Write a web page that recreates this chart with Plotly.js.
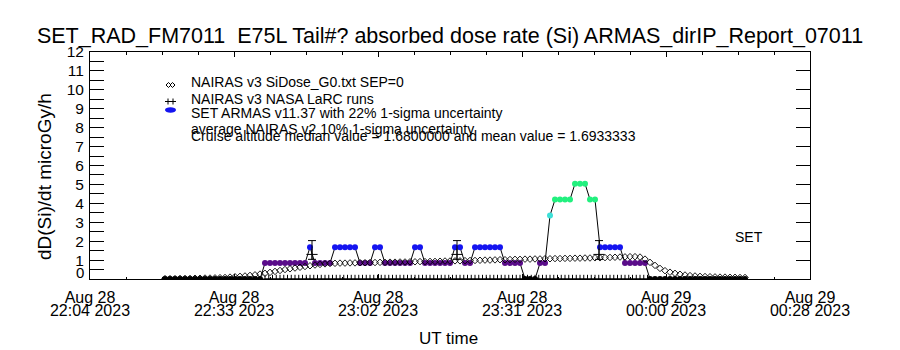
<!DOCTYPE html>
<html><head><meta charset="utf-8">
<script src="https://cdn.plot.ly/plotly-3.0.1.min.js"></script>
<style>html,body{margin:0;padding:0;background:#fff}#chart{width:900px;height:350px}</style>
</head><body><div id="chart"></div>
<script>
// ---------- axis ----------
const axisStart = "2023-08-28 22:04:50";
const axisEnd = "2023-08-29 00:28:50";
const xTickTimes = ["2023-08-28 22:04:50","2023-08-28 22:33:38","2023-08-28 23:02:26","2023-08-28 23:31:14","2023-08-29 00:00:02","2023-08-29 00:28:50"];
const xTickDay = ["Aug 28","Aug 28","Aug 28","Aug 28","Aug 29","Aug 29"];
const xTickClock = ["22:04 2023","22:33 2023","23:02 2023","23:31 2023","00:00 2023","00:28 2023"];
const yTickLabels = ["0","1","2","3","4","5","6","7","8","9","10","11","12"];

// ---------- SET ARMAS (one sample per minute) ----------
const setStart = "2023-08-28 22:19:50";
const setStepSec = 60;
const setValues = [
 0,0,0,0,0,0,0,0,0,0,0,0,0,0,0,0,0,0,0,0,
 0.84,0.84,0.84,0.84,0.84,0.84,0.84,0.84,0.84,
 1.68,
 0.84,0.84,0.84,0.84,
 1.68,1.68,1.68,1.68,1.68,
 0.84,0.84,0.84,
 1.68,1.68,
 0.84,0.84,0.84,0.84,0.84,0.84,
 1.68,1.68,
 0.84,0.84,0.84,0.84,0.84,0.84,
 1.68,1.68,
 0.84,0.84,
 1.68,1.68,1.68,1.68,1.68,1.68,
 0.84,0.84,0.84,0.84,
 0,0,0,
 0.84,0.84,
 3.36,
 4.2,4.2,4.2,4.2,
 5.04,5.04,5.04,
 4.2,4.2,
 1.68,1.68,1.68,1.68,1.68,
 0.84,0.84,0.84,0.84,0.84,
 0,0,0,0,0,0,0,0,0,0,0,0,0,0,0,0,0,0,0,0
];

// ---------- NAIRAS v3 SiDose_G0 (one sample per minute) ----------
const nairasStart = "2023-08-28 22:19:50";
const nairasStepSec = 60;
const nairasValues = [
 0.02,0.02,0.02,0.03,0.03,0.03,0.04,
 0.04,0.05,0.05,0.06,0.07,0.08,
 0.10,0.12,0.14,
 0.16,0.19,0.22,0.26,
 0.30,0.35,0.40,0.45,0.50,0.54,0.58,0.62,0.66,0.70,0.74,0.77,0.80,0.82,
 0.83,0.84,0.84,0.85,0.85,0.86,
 0.86,0.87,0.87,0.88,0.88,0.89,0.89,0.90,0.90,0.91,0.91,0.92,
 0.92,0.93,0.93,0.94,0.95,0.95,0.96,0.96,0.97,0.98,0.98,0.99,
 1.00,1.00,1.01,1.02,1.02,1.03,1.04,1.04,1.05,1.05,1.06,1.06,
 1.07,1.07,1.08,1.08,1.09,1.09,1.10,1.10,1.11,1.11,1.12,1.12,
 1.13,1.14,1.15,1.16,1.17,
 1.18,1.18,1.16,
 1.05,0.88,0.72,0.56,0.44,0.36,0.30,0.25,0.21,0.18,
 0.16,0.14,0.13,0.12,0.11,
 0.10,0.10,0.09,0.09,0.08,0.08
];

// ---------- NAIRAS v3 NASA LaRC runs ----------
const larcTimes = ["2023-08-28 22:49:14","2023-08-28 23:18:14","2023-08-28 23:46:38"];
const larcValues = [1.30, 1.30, 1.30];
const larcErrPlus = [0.73, 0.73, 0.73];
const larcErrMinus = [0.26, 0.26, 0.26];
// LaRC series samples with no run (value 0), every 45 s
const larcZeroStart = "2023-08-28 22:39:50";
const larcZeroStepSec = 45;
const larcZeroValues = [
 0,0,0,0,0,0,0,0,0,0,0,0,0,0,0,0,0,0,0,0,
 0,0,0,0,0,0,0,0,0,0,0,0,0,0,0,0,0,0,0,0,
 0,0,0,0,0,0,0,0,0,0,0,0,0,0,0,0,0,0,0,0,
 0,0,0,0,0,0,0,0,0,0,0,0,0,0,0,0,0,0,0,0,
 0,0,0,0,0,0,0,0,0,0,0,0,0,0,0,0,0,0,0,0,
 0,0,0
];

// ---------- helpers ----------
function addSec(str, sec){
  const d = new Date(str.replace(' ','T') + 'Z');
  return new Date(d.getTime() + sec*1000).toISOString().slice(0,19).replace('T',' ');
}
function series(start, step, vals){ return vals.map((v,i)=>addSec(start, i*step)); }
const levelColor = {0:"#000000", 0.84:"#5a0c8a", 1.68:"#1414f0", 3.36:"#3ee0d8", 4.2:"#22f07e", 5.04:"#22f07e"};

const FONT = "Liberation Sans, Arial, sans-serif";
const W = 900, H = 350, L = 90, R = 90, T = 52, B = 71;
const PW = W - L - R, PH = H - T - B;
const px = x => (x - L) / PW;       // pixel -> paper x
const py = y => (H - B - y) / PH;   // pixel -> paper y

const traces = [
  { // SET ARMAS
    type: "scatter", mode: "lines+markers", xaxis: "x", yaxis: "y",
    x: series(setStart, setStepSec, setValues), y: setValues,
    line: {color: "#000", width: 1},
    marker: {symbol: "circle", size: 6, color: setValues.map(v => levelColor[v]), line: {width: 0}},
    hoverinfo: "skip", showlegend: false
  },
  { // LaRC zero samples
    type: "scatter", mode: "markers", xaxis: "x", yaxis: "y2",
    x: series(larcZeroStart, larcZeroStepSec, larcZeroValues), y: larcZeroValues,
    marker: {symbol: "cross-thin-open", size: 6, color: "#000", line: {color: "#000", width: 1}},
    hoverinfo: "skip", showlegend: false
  },
  { // NAIRAS v3 G0
    type: "scatter", mode: "markers", xaxis: "x2", yaxis: "y",
    x: series(nairasStart, nairasStepSec, nairasValues), y: nairasValues,
    marker: {symbol: "diamond-open", size: 5, color: "#000", line: {color: "#000", width: 0.9}},
    hoverinfo: "skip", showlegend: false
  },
  { // LaRC runs
    type: "scatter", mode: "markers", xaxis: "x2", yaxis: "y",
    x: larcTimes, y: larcValues,
    marker: {symbol: "cross-thin-open", size: 8, color: "#000", line: {color: "#000", width: 1}},
    error_y: {type: "data", symmetric: false, array: larcErrPlus, arrayminus: larcErrMinus, color: "#000", thickness: 1, width: 4},
    hoverinfo: "skip", showlegend: false
  }
];

const yHalfVals = [], yHalfText = [];
for (let i = 0; i <= 24; i++) { yHalfVals.push(i/2); yHalfText.push(i % 2 === 0 && i > 0 ? yTickLabels[i/2] : ""); }

const ann = (text, x, y, opts) => Object.assign({text, x: px(x), y: py(y), xref: "paper", yref: "paper",
  showarrow: false, font: {family: FONT, size: 14, color: "#000"}, xanchor: "left", yanchor: "middle"}, opts || {});

const annotations = [
  ann(yTickLabels[0], 86, 272, {xanchor: "right", font: {family: FONT, size: 15, color: "#000"}}),
  ann("dD(Si)/dt microGy/h", 44, 177, {xanchor: "center", textangle: -90, font: {family: FONT, size: 19, color: "#000"}}),
  ann("UT time", 448, 338, {xanchor: "center", font: {family: FONT, size: 17, color: "#000"}}),
  ann("SET", 749, 237, {xanchor: "center", font: {family: FONT, size: 14, color: "#000"}}),
  ann("NAIRAS v3 SiDose_G0.txt SEP=0", 189, 81.5),
  ann("NAIRAS v3 NASA LaRC runs", 189, 98.5),
  ann("SET ARMAS v11.37 with 22% 1-sigma uncertainty", 189, 113),
  ann("average NAIRAS v2 10% 1-sigma uncertainty", 189, 129),
  ann("Cruise altitude median value = 1.6800000 and mean value = 1.6933333", 189, 136)
];

const shapes = [
  // legend symbols: two diamonds, two crosses, blue dot
  {type: "path", xref: "paper", yref: "paper", xsizemode: "pixel", ysizemode: "pixel", xanchor: px(168.5), yanchor: py(85),
   path: "M -2.5 0 L 0 2.5 L 2.5 0 L 0 -2.5 Z", line: {color: "#000", width: 1}},
  {type: "path", xref: "paper", yref: "paper", xsizemode: "pixel", ysizemode: "pixel", xanchor: px(172.5), yanchor: py(85),
   path: "M -2.5 0 L 0 2.5 L 2.5 0 L 0 -2.5 Z", line: {color: "#000", width: 1}},
  {type: "path", xref: "paper", yref: "paper", xsizemode: "pixel", ysizemode: "pixel", xanchor: px(168), yanchor: py(101.5),
   path: "M -3 0 L 3 0 M 0 -3 L 0 3", line: {color: "#000", width: 1}},
  {type: "path", xref: "paper", yref: "paper", xsizemode: "pixel", ysizemode: "pixel", xanchor: px(173), yanchor: py(101.5),
   path: "M -3 0 L 3 0 M 0 -3 L 0 3", line: {color: "#000", width: 1}},
  {type: "circle", xref: "paper", yref: "paper", xsizemode: "pixel", ysizemode: "pixel", xanchor: px(170.5), yanchor: py(110),
   x0: -5.5, x1: 5.5, y0: -2.7, y1: 2.7, fillcolor: "#1414f0", line: {width: 0}}
];

const layout = {
  width: W, height: H, margin: {l: L, r: R, t: T, b: B, pad: 0},
  paper_bgcolor: "#fff", plot_bgcolor: "#fff", showlegend: false,
  font: {family: FONT, color: "#000"},
  title: {text: "SET_RAD_FM7011  E75L Tail#? absorbed dose rate (Si) ARMAS_dirIP_Report_07011",
          font: {family: FONT, size: 21.5, color: "#000"}, x: 0.5, xanchor: "center", y: 1 - 35.5/H, yanchor: "middle"},
  xaxis: {type: "date", range: [axisStart, axisEnd], showgrid: false, zeroline: false,
          showline: true, linecolor: "#000", linewidth: 1, mirror: "ticks",
          tickmode: "array", tickvals: xTickTimes, ticktext: xTickDay,
          ticks: "inside", ticklen: 5, tickcolor: "#000", tickwidth: 1,
          minor: {ticks: "inside", ticklen: 2.5, tickcolor: "#000", dtick: 432000, tick0: axisStart, showgrid: false},
          tickfont: {family: FONT, size: 16, color: "#000"}, ticklabelstandoff: 4, automargin: false},
  xaxis2: {type: "date", range: [axisStart, axisEnd], overlaying: "x", side: "bottom", anchor: "y",
          showgrid: false, zeroline: false, showline: false, ticks: "",
          tickmode: "array", tickvals: xTickTimes, ticktext: xTickClock,
          tickfont: {family: FONT, size: 16, color: "#000"}, ticklabelstandoff: 20, automargin: false},
  yaxis: {range: [0, 12], showgrid: false, zeroline: false, showline: true, linecolor: "#000", linewidth: 1,
          tickmode: "array", tickvals: yHalfVals, ticktext: yHalfText,
          ticks: "inside", ticklen: 14, tickcolor: "#000", tickwidth: 1,
          tickfont: {family: FONT, size: 15.5, color: "#000"}, ticklabelstandoff: 2, automargin: false},
  yaxis2: {range: [0, 12], overlaying: "y", side: "right", anchor: "x", showgrid: false, zeroline: false,
          showline: true, linecolor: "#000", linewidth: 1,
          tickmode: "array", tickvals: [0,1,2,3,4,5,6,7,8,9,10,11,12], showticklabels: false,
          ticks: "inside", ticklen: 14, tickcolor: "#000", tickwidth: 1, automargin: false},
  annotations, shapes
};

Plotly.newPlot("chart", traces, layout, {displayModeBar: false, staticPlot: true});
</script>
</body></html>
